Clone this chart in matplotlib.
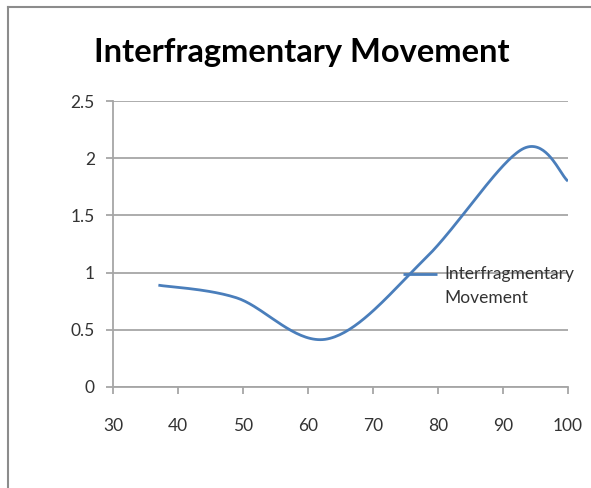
import numpy as np
import matplotlib.pyplot as plt
from matplotlib.lines import Line2D

# data points
xs = [37, 49, 63, 78, 93, 100]
ys = [0.89, 0.78, 0.42, 1.12, 2.08, 1.8]
series = 'Interfragmentary\nMovement'
xticks = [30, 40, 50, 60, 70, 80, 90, 100]
yticks = [0, 0.5, 1, 1.5, 2, 2.5]
yticklabels = ['0', '0.5', '1', '1.5', '2', '2.5']

# excel-like smoothed line (bezier through the points)
def smooth(px, py, n=40):
    p = np.column_stack([px, py]).astype(float)
    pts = np.vstack([p[0], p, p[-1]])
    out = []
    for i in range(1, len(pts) - 2):
        p0, p1, p2, p3 = pts[i-1], pts[i], pts[i+1], pts[i+2]
        c1 = p1 + (p2 - p0) / 6
        c2 = p2 - (p3 - p1) / 6
        t = np.linspace(0, 1, n)[:, None]
        seg = (1-t)**3*p1 + 3*(1-t)**2*t*c1 + 3*(1-t)*t**2*c2 + t**3*p2
        out.append(seg)
    out = np.vstack(out)
    return out[:, 0], out[:, 1]

plt.rcParams['font.family'] = ['Lato', 'DejaVu Sans']
fig = plt.figure(figsize=(5.91, 4.88), dpi=100)
ax = fig.add_axes([0.191, 0.207, 0.770, 0.586])

sx, sy = smooth(xs, ys)
ax.plot(sx, sy, color='#4a7ebb', lw=2.0, label=series, solid_capstyle='butt')

ax.set_xlim(30, 100)
ax.set_ylim(0, 2.5)
ax.set_xticks(xticks)
ax.set_yticks(yticks)
ax.set_yticklabels(yticklabels)
ax.grid(True, axis='y', color='#a6a6a6', lw=1.3)
ax.set_axisbelow(True)
for s in ['top', 'right']:
    ax.spines[s].set_visible(False)
for s in ['left', 'bottom']:
    ax.spines[s].set_color('#a6a6a6')
    ax.spines[s].set_linewidth(1.3)
ax.tick_params(axis='both', colors='#a6a6a6', length=5, width=1.3, labelcolor='#333333', labelsize=12.5)
ax.tick_params(axis='x', pad=17)
ax.tick_params(axis='y', pad=8)

fig.text(0.51, 0.893, 'Interfragmentary Movement', ha='center', va='center',
         fontsize=23.5, fontweight='bold', color='black')

leg = ax.legend(loc='center left', bbox_to_anchor=(0.655, 0.414), bbox_transform=fig.transFigure,
                frameon=False, fontsize=12.5, handlelength=2.0, handletextpad=0.4, labelcolor='#333333')
leg.get_texts()[0].set_linespacing(1.55)
hl = leg.get_lines()[0]
hl.set_ydata(np.asarray(hl.get_ydata()) + 9)

# outer frame (left and top edges)
fig.add_artist(Line2D([0.0135, 0.0135], [0, 0.986], color='#8c8c8c', lw=1.5, transform=fig.transFigure))
fig.add_artist(Line2D([0.0135, 1.0], [0.986, 0.986], color='#8c8c8c', lw=1.5, transform=fig.transFigure))

plt.savefig('out.png', dpi=100)
